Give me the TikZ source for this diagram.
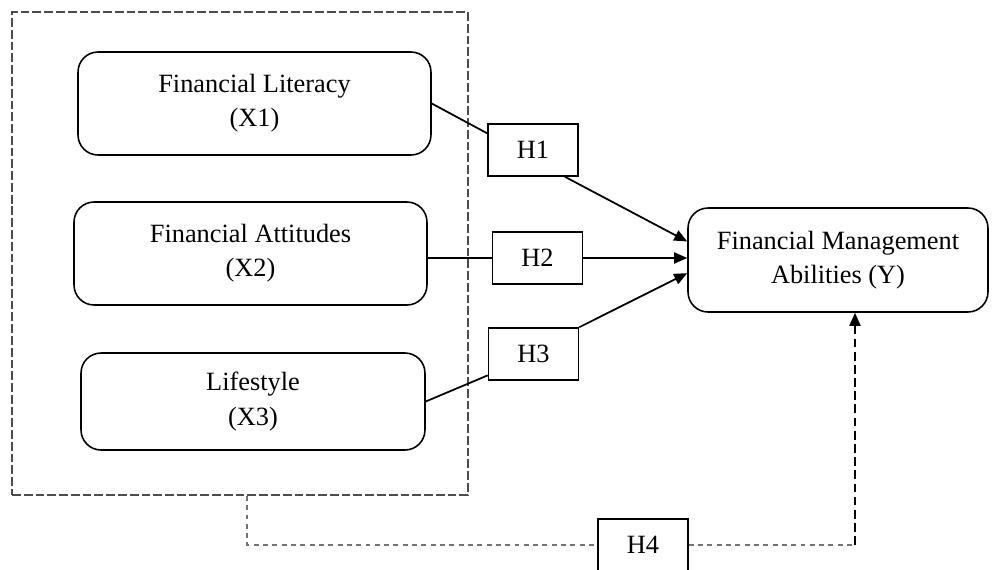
\documentclass[tikz,border=0pt]{standalone}
\usepackage{fontspec}
\setmainfont{Liberation Serif}
\usetikzlibrary{arrows.meta}
\tikzset{
  var/.style={draw, rounded corners=0.4cm, line width=0.9pt, align=center, inner sep=0pt},
  hyp/.style={draw, line width=0.9pt, minimum width=1.8cm, minimum height=1.04cm, inner sep=0pt},
  link/.style={line width=1pt},
  tip/.style={-{Triangle[length=0.26cm,width=0.22cm]}},
}
\begin{document}
\begin{tikzpicture}[x=0.02cm, y=-0.02cm, font=\fontsize{15}{19.4}\selectfont]
  \useasboundingbox (0,0) rectangle (992,569);

  % marco de las variables X
  \node[draw=black!70, dash pattern=on 5pt off 1.7pt, line width=1.1pt,
        minimum width=9.12cm, minimum height=9.66cm, inner sep=0pt] (grp) at (240,253.5) {};

  \node[var, minimum width=7.06cm, minimum height=2.06cm] (lit)  at (254.5,103.5) {Financial Literacy\\(X1)};
  \node[var, minimum width=7.06cm, minimum height=2.06cm] (att)  at (250.5,253.5) {Financial Attitudes\\(X2)};
  \node[var, minimum width=6.88cm, minimum height=1.94cm] (life) at (253,401.5)   {Lifestyle\\(X3)};
  \node[var, minimum width=6.0cm,  minimum height=2.08cm] (fma)  at (838,260)     {Financial Management\\Abilities (Y)};

  \node[hyp] (h1) at (533,150)   {H1};
  \node[hyp] (h2) at (537.5,258) {H2};
  \node[hyp] (h3) at (533.5,354) {H3};
  \node[hyp] (h4) at (643,545)   {H4};

  \draw[link] (lit.east) -- (h1.160);
  \draw[link, tip] (h1.-40) -- (fma.173);
  \draw[link] (att.east |- h2.west) -- (h2.west);
  \draw[link, tip] (h2.east) -- (h2.east -| fma.west);
  \draw[link] (life.east) -- (h3.205);
  \draw[link, tip] (h3.north east) -- (fma.185);

  % H4: del marco a la variable Y
  \coordinate (c4) at (855,545);
  \draw[black!55, line width=0.8pt, dash pattern=on 2.8pt off 2.5pt]
        ([xshift=0.14cm]grp.south) |- (h4.west);
  \draw[black!55, line width=0.8pt, dash pattern=on 2.8pt off 2.5pt] (h4.east) -- (c4);
  \draw[line width=1pt, dash pattern=on 5pt off 2.5pt, tip] (c4) -- (c4 |- fma.south);
\end{tikzpicture}
\end{document}
